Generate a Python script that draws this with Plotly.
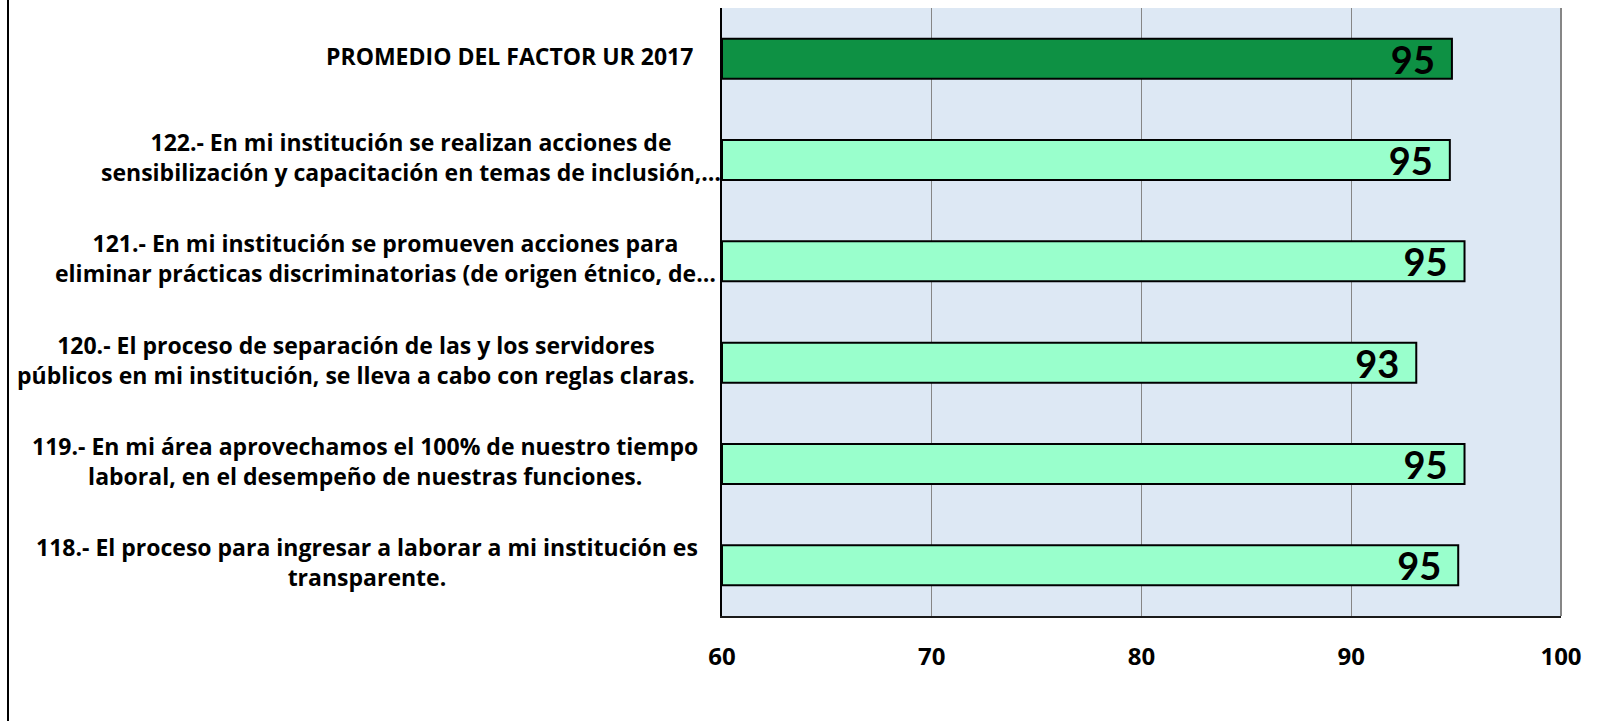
import plotly.graph_objects as go

# ---- data (bottom to top) ----
categories = [
    "118.- El proceso para ingresar a laborar a mi institución es<br>transparente.",
    "119.- En mi área aprovechamos el 100% de nuestro tiempo<br>laboral, en el desempeño de nuestras funciones.",
    "120.- El proceso de separación de las y los servidores<br>públicos en mi institución, se lleva a cabo con reglas claras.",
    "121.- En mi institución se promueven acciones para<br>eliminar prácticas discriminatorias (de origen étnico, de…",
    "122.- En mi institución se realizan acciones de<br>sensibilización y capacitación en temas de inclusión,…",
    "PROMEDIO DEL FACTOR UR 2017",
]
values = [95.1, 95.4, 93.1, 95.4, 94.7, 94.8]
x_ticks = [60, 70, 80, 90, 100]

# ---- styling ----
LABEL_FONT = "Open Sans, sans-serif"
NUM_FONT = "Lato, Open Sans, sans-serif"
bar_colors = ["#99FFCC"] * 5 + ["#0E9144"]
label_xshift = [-22, -22, -25, -4, 1, -27]  # px offsets of label right edges from the axis

W, H = 1623, 721
ML, MR, MT, MB = 722, 62, 8, 105
PW, PH = W - ML - MR, H - MT - MB

base = x_ticks[0]
fig = go.Figure()
fig.add_trace(go.Bar(
    y=categories,
    x=[v - base for v in values],
    base=base,
    orientation="h",
    marker=dict(color=bar_colors, line=dict(color="#000000", width=2)),
    text=[f"{round(v):d}\u00a0\u2009" for v in values],
    textposition="inside",
    insidetextanchor="end",
    textangle=0,
    constraintext="none",
    textfont=dict(family=NUM_FONT, size=38, color="#000000", weight="bold"),
    hoverinfo="skip",
))

for i, cat in enumerate(categories):
    fig.add_annotation(
        x=0, xref="paper", y=cat, yref="y",
        text=cat, showarrow=False,
        xanchor="right", yanchor="middle", align="center",
        xshift=label_xshift[i], yshift=3,
        font=dict(family=LABEL_FONT, size=23, color="#000000", weight="bold"),
    )

# chart frame (left border) and right edge line of plot area
fig.add_shape(type="line", xref="paper", yref="paper",
              x0=(8 - ML) / PW, x1=(8 - ML) / PW,
              y0=-(MB + 5) / PH, y1=(PH + MT + 5) / PH,
              line=dict(color="#000000", width=2))
fig.add_shape(type="line", xref="paper", yref="paper",
              x0=1, x1=1, y0=0, y1=1,
              line=dict(color="#868686", width=2))

fig.update_layout(
    width=W, height=H,
    margin=dict(l=ML, r=MR, t=MT, b=MB, pad=0),
    paper_bgcolor="#FFFFFF",
    plot_bgcolor="#DDE8F4",
    showlegend=False,
    bargap=0.606,
    xaxis=dict(
        range=[x_ticks[0], x_ticks[-1]],
        tickvals=x_ticks,
        showgrid=True, gridcolor="#868686", gridwidth=1,
        showline=True, linecolor="#1a1a1a", linewidth=2,
        zeroline=False, ticks="",
        ticklabelstandoff=18,
        tickfont=dict(family="Open Sans, sans-serif", size=24, color="#000000", weight="bold"),
    ),
    yaxis=dict(
        range=[-0.5, 5.5],
        showticklabels=False, showgrid=False, zeroline=False,
        showline=True, linecolor="#000000", linewidth=2, ticks="",
    ),
)

fig.write_html("out.html", config={"displayModeBar": False},
               post_script="document.body.style.margin='0';")
